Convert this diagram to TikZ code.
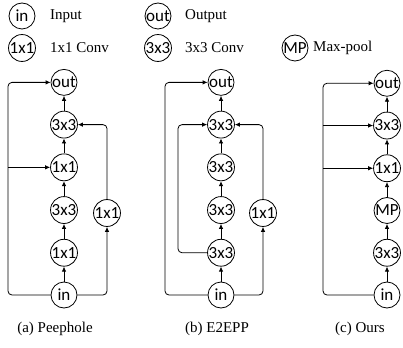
\documentclass[tikz,border=0pt]{standalone}
\usepackage{fontspec}
\setmainfont{Liberation Serif}
\newfontfamily\labfont{Carlito}
\usetikzlibrary{positioning, arrows.meta}
\tikzset{
  blk/.style={circle, draw, line width=0.8pt, minimum size=26pt, inner sep=0pt, font=\labfont\fontsize{17}{17}\selectfont},
  txt/.style={anchor=west, inner sep=0pt, font=\fontsize{15}{18}\selectfont},
  captxt/.style={inner sep=0pt, font=\fontsize{15}{18}\selectfont},
  arr/.style={-{Latex[length=5pt,width=4.5pt]}, line width=0.8pt, rounded corners=4pt},
}

\begin{document}
\begin{tikzpicture}[x=1pt,y=-1pt]
\useasboundingbox (0,0) rectangle (403,347);

% legend
\node[blk] (lin) at (22,16) {in};
\node[txt] (tin) at (50,16) {Input};
\node[blk] (lout) at (158,16) {out};
\node[txt] (tout) at (185,16) {Output};
\node[blk] (lone) at (22,48) {1x1};
\node[txt] (tone) at (50,48) {1x1 Conv};
\node[blk] (lthree) at (158,48) {3x3};
\node[txt] (tthree) at (185,48) {3x3 Conv};
\node[blk] (lmp) at (295,48) {MP};
\node[txt] (tmp) at (313,48) {Max-pool};

% (a) Peephole
\node[blk] (a0) at (64,295) {in};
\node[blk, above=15pt of a0] (a1) {1x1};
\node[blk, above=15pt of a1] (a2) {3x3};
\node[blk, above=15pt of a2] (a3) {1x1};
\node[blk, above=15pt of a3] (a4) {3x3};
\node[blk, above=15pt of a4] (a5) {out};
\node[blk] (as) at (107,213) {1x1};
\foreach \i/\j in {a0/a1,a1/a2,a2/a3,a3/a4,a4/a5}
  \draw[arr] (\i) -- (\j);
\coordinate (aL) at (8,200);
\draw[arr] (a0.west) -| (aL) |- (a5.west);
\draw[arr] (aL |- a3) -- (a3.west);
\draw[arr] (a0.east) -| (as.south);
\draw[arr] (as.north) |- (a4.east);
\node[captxt] (capa) at (55,329) {(a) Peephole};

% (b) E2EPP
\node[blk] (b0) at (221,295) {in};
\node[blk, above=15pt of b0] (b1) {3x3};
\node[blk, above=15pt of b1] (b2) {3x3};
\node[blk, above=15pt of b2] (b3) {3x3};
\node[blk, above=15pt of b3] (b4) {3x3};
\node[blk, above=15pt of b4] (b5) {out};
\node[blk] (bs) at (263,213) {1x1};
\foreach \i/\j in {b0/b1,b1/b2,b2/b3,b3/b4,b4/b5}
  \draw[arr] (\i) -- (\j);
\coordinate (bL) at (165,200);
\coordinate (bM) at (178,200);
\draw[arr] (b0.west) -| (bL) |- (b5.west);
\draw[arr] (b1.west) -| (bM) |- (b4.west);
\draw[arr] (b0.east) -| (bs.south);
\draw[arr] (bs.north) |- (b4.east);
\node[captxt] (capb) at (217,329) {(b) E2EPP};

% (c) Ours
\node[blk] (c0) at (387,295) {in};
\node[blk, above=15pt of c0] (c1) {3x3};
\node[blk, above=15pt of c1] (c2) {MP};
\node[blk, above=15pt of c2] (c3) {1x1};
\node[blk, above=15pt of c3] (c4) {3x3};
\node[blk, above=15pt of c4] (c5) {out};
\foreach \i/\j in {c0/c1,c1/c2,c2/c3,c3/c4,c4/c5}
  \draw[arr] (\i) -- (\j);
\coordinate (cL) at (323,200);
\draw[arr] (c0.west) -| (cL) |- (c5.west);
\draw[arr] (cL |- c4) -- (c4.west);
\draw[arr] (cL |- c3) -- (c3.west);
\node[captxt] (capc) at (360,329) {(c) Ours};
\end{tikzpicture}
\end{document}
